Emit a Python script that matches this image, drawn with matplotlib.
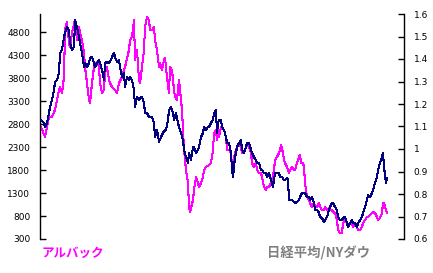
import matplotlib
matplotlib.use("Agg")
import matplotlib.pyplot as plt
from matplotlib.ticker import FormatStrFormatter, FuncFormatter

# アルバック株価（左軸）
week_ulvac = [0, 4, 8, 11, 14, 18, 19, 21, 23, 24,
              26, 28, 29, 31, 34, 36, 38, 39, 41, 43,
              44, 46, 48, 49, 51, 53, 56, 58, 59, 61,
              63, 64, 66, 68, 69, 71, 74, 76, 78, 81,
              84, 88, 89, 91, 93, 94, 96, 98, 99, 101,
              103, 104, 106, 108, 109, 111, 113, 114, 116, 118,
              119, 121, 123, 124, 126, 128, 129, 131, 133, 134,
              136, 138, 139, 141, 143, 145, 147, 148, 149, 152,
              153, 155, 157, 158, 160, 162, 163, 165, 168, 170,
              172, 173, 175, 176, 177, 178, 180, 183, 185, 186,
              188, 190, 191, 193, 195, 196, 198, 200, 201, 203,
              205, 206, 208, 210, 211, 213, 215, 216, 218, 220,
              221, 223, 225, 226, 228, 230, 231, 233, 234, 236,
              238, 239, 240, 242, 243, 244, 246, 248, 249, 251,
              253, 254, 256, 258, 259, 260, 262, 263, 264, 266,
              268, 269, 271, 273, 274, 276, 278, 279, 281, 283,
              284, 286, 288, 289, 291, 292, 294, 296, 297, 299,
              301, 302, 304, 306, 307, 309, 311, 312, 314, 316,
              317, 319, 321, 322, 324, 326, 327, 329, 331, 332,
              334, 336, 337, 339, 341, 342, 343, 345, 346]
ulvac = [2739, 2522, 2957, 2957, 3110, 3545, 3611, 3480, 3828, 4852,
         5026, 4569, 4482, 4787, 5070, 4634, 4917, 4787, 4634, 4351,
         4046, 3698, 3327, 3262, 3698, 4046, 4155, 4046, 3698, 3480,
         3545, 3915, 4046, 3763, 3698, 3611, 3545, 3480, 3698, 3828,
         4046, 4416, 4634, 4700, 5070, 4199, 4416, 3763, 3698, 4046,
         4416, 4917, 5135, 5070, 4852, 4852, 4917, 4634, 4416, 4046,
         4133, 3981, 4199, 4242, 3828, 3480, 4046, 3981, 3545, 3393,
         3327, 3763, 3545, 3110, 2250, 1803, 1520, 997, 888, 1149,
         1367, 1650, 1520, 1433, 1520, 1650, 1803, 1868, 1912, 1955,
         2238, 2609, 2674, 2456, 2674, 2522, 2739, 2674, 2522, 2238,
         2238, 2173, 1868, 2086, 2238, 2304, 2391, 2304, 2173, 2173,
         2304, 2391, 2304, 2173, 1955, 1868, 1955, 1803, 1737, 1737,
         1650, 1433, 1367, 1433, 1433, 1520, 1585, 1803, 2021, 2086,
         2173, 2238, 2347, 2173, 2021, 1955, 1868, 1737, 1803, 1868,
         1803, 1803, 1955, 2086, 2130, 1955, 1955, 1868, 1520, 1215,
         1149, 1084, 997, 1084, 997, 997, 1084, 997, 932, 932,
         997, 932, 975, 932, 932, 888, 866, 714, 496, 431,
         431, 648, 714, 648, 561, 648, 648, 561, 648, 561,
         496, 496, 561, 648, 714, 779, 779, 823, 866, 888,
         866, 779, 714, 757, 866, 1084, 1084, 932, 866]

# 日経平均/NYダウ（右軸）
week_ratio = [0, 3, 4, 6, 8, 9, 11, 13, 14, 16,
              18, 19, 21, 23, 24, 26, 28, 29, 31, 33,
              34, 36, 38, 39, 41, 43, 44, 46, 48, 49,
              51, 53, 54, 56, 58, 59, 61, 63, 64, 66,
              68, 69, 71, 73, 74, 76, 78, 79, 81, 83,
              84, 86, 88, 89, 91, 93, 94, 96, 98, 99,
              101, 103, 104, 106, 108, 109, 111, 113, 114, 116,
              118, 120, 122, 123, 125, 127, 128, 130, 132, 133,
              135, 137, 138, 140, 142, 143, 145, 147, 148, 150,
              152, 153, 155, 157, 158, 160, 162, 163, 165, 167,
              168, 170, 172, 173, 175, 176, 177, 178, 180, 181,
              183, 185, 186, 188, 190, 191, 192, 194, 195, 196,
              198, 200, 201, 203, 205, 206, 208, 210, 211, 213,
              215, 216, 218, 220, 221, 223, 225, 226, 228, 230,
              231, 232, 233, 234, 236, 238, 239, 241, 243, 244,
              246, 247, 248, 249, 251, 253, 254, 256, 258, 259,
              261, 263, 264, 266, 268, 269, 271, 273, 274, 276,
              278, 279, 281, 283, 284, 286, 288, 289, 291, 292,
              294, 296, 297, 299, 301, 302, 304, 306, 307, 309,
              311, 312, 314, 316, 317, 319, 321, 322, 324, 326,
              327, 329, 331, 332, 334, 336, 337, 339, 341, 342,
              343, 345, 346]
ratio = [1.129, 1.116, 1.098, 1.116, 1.160, 1.187, 1.218, 1.262, 1.298, 1.307,
         1.338, 1.427, 1.440, 1.498, 1.516, 1.542, 1.529, 1.471, 1.440, 1.453,
         1.573, 1.542, 1.498, 1.471, 1.427, 1.364, 1.382, 1.364, 1.382, 1.404,
         1.409, 1.382, 1.364, 1.382, 1.396, 1.382, 1.351, 1.307, 1.382, 1.387,
         1.382, 1.387, 1.409, 1.427, 1.409, 1.387, 1.396, 1.364, 1.320, 1.338,
         1.276, 1.320, 1.307, 1.320, 1.307, 1.262, 1.187, 1.231, 1.218, 1.227,
         1.231, 1.204, 1.160, 1.160, 1.142, 1.142, 1.142, 1.116, 1.053, 1.084,
         1.033, 1.053, 1.071, 1.080, 1.084, 1.129, 1.173, 1.187, 1.160, 1.129,
         1.160, 1.116, 1.098, 1.071, 1.040, 0.996, 0.964, 0.938, 0.982, 0.951,
         1.009, 1.009, 0.982, 0.996, 1.009, 1.053, 1.071, 1.098, 1.084, 1.098,
         1.098, 1.116, 1.129, 1.160, 1.173, 1.071, 1.116, 1.129, 1.129, 1.098,
         1.084, 1.053, 1.027, 1.027, 0.982, 0.907, 0.876, 0.964, 0.982, 1.009,
         1.027, 1.040, 0.996, 0.982, 1.009, 1.027, 1.027, 0.996, 0.982, 0.964,
         0.951, 0.938, 0.938, 0.907, 0.907, 0.893, 0.893, 0.876, 0.893, 0.862,
         0.849, 0.831, 0.862, 0.893, 0.893, 0.893, 0.876, 0.876, 0.862, 0.862,
         0.871, 0.862, 0.773, 0.773, 0.773, 0.764, 0.760, 0.764, 0.773, 0.787,
         0.804, 0.804, 0.804, 0.787, 0.787, 0.773, 0.787, 0.760, 0.729, 0.729,
         0.716, 0.698, 0.693, 0.676, 0.684, 0.698, 0.729, 0.742, 0.760, 0.760,
         0.742, 0.729, 0.698, 0.684, 0.684, 0.693, 0.698, 0.671, 0.653, 0.671,
         0.684, 0.671, 0.671, 0.653, 0.671, 0.684, 0.698, 0.716, 0.742, 0.773,
         0.796, 0.787, 0.804, 0.818, 0.849, 0.876, 0.907, 0.938, 0.964, 0.982,
         0.920, 0.849, 0.871]

left_ticks = [300, 800, 1300, 1800, 2300, 2800, 3300, 3800, 4300, 4800]
right_ticks = [0.6, 0.7, 0.8, 0.9, 1.0, 1.1, 1.2, 1.3, 1.4, 1.5, 1.6]

fig = plt.figure(figsize=(4.33, 2.73), dpi=100)
ax = fig.add_axes([40 / 433, 34 / 273, 364 / 433, 225 / 273])
ax2 = ax.twinx()

ax.plot(week_ulvac, ulvac, color="#FF00FF", lw=0.75, antialiased=False)
ax2.plot(week_ratio, ratio, color="#000080", lw=0.75, antialiased=False)

ax.set_xlim(-1, 363)
ax.set_ylim(300, 5200)
ax2.set_ylim(0.6, 1.6)
ax.set_xticks([])
ax.set_yticks(left_ticks)
ax2.set_yticks(right_ticks)
ax.yaxis.set_major_formatter(FormatStrFormatter("%d"))
ax2.yaxis.set_major_formatter(FuncFormatter(lambda v, p: "%g" % round(v, 1)))

for a in (ax, ax2):
    for s in ("top", "bottom"):
        a.spines[s].set_visible(False)
    a.tick_params(axis="y", direction="in", length=4, width=1, pad=7,
                  labelsize=6.5, colors="black")
ax.spines["left"].set_linewidth(1)
ax2.spines["right"].set_linewidth(1)
ax.spines["right"].set_visible(False)
ax2.spines["left"].set_visible(False)

fig.text(42 / 433, 0.071, "アルバック", color="#FF00FF", fontsize=9,
         fontweight="bold", family=["Noto Sans CJK JP", "DejaVu Sans"], va="center")
fig.text(267 / 433, 0.071, "日経平均/NYダウ", color="#808080", fontsize=9.6,
         fontweight="bold", family=["Noto Sans CJK JP", "DejaVu Sans"], va="center")

fig.savefig("out.png", dpi=100)
